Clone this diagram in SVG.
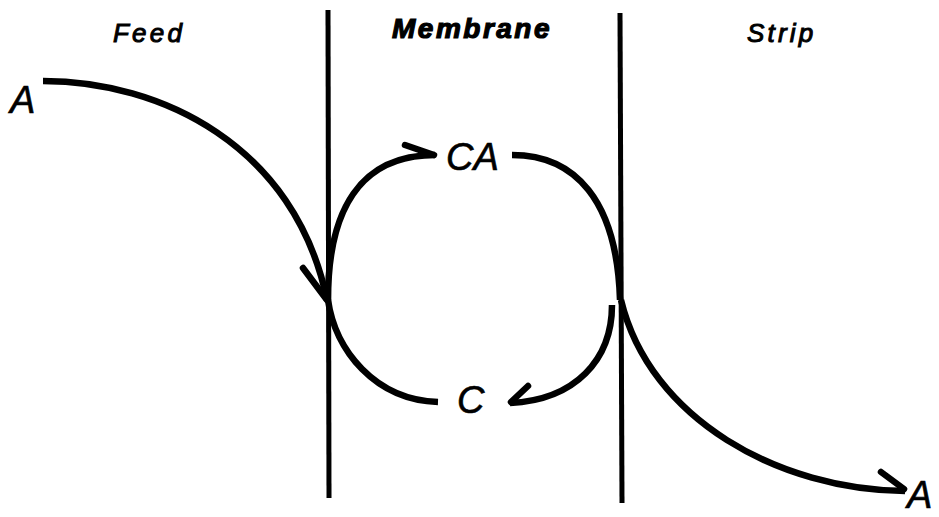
<svg xmlns="http://www.w3.org/2000/svg" width="939" height="517" viewBox="0 0 939 517">
<style>
.head{font-family:"Liberation Sans",Arial,sans-serif;font-style:italic;font-size:26px;letter-spacing:3.2px;fill:#000;stroke:#000;stroke-width:1}
.bold{font-weight:bold;font-size:28px;letter-spacing:2.5px;stroke-width:1.2}
.sp{font-family:"Liberation Sans",Arial,sans-serif;font-style:italic;font-size:38px;fill:#000;stroke:#000;stroke-width:0.6}
.wall{stroke:#000;stroke-width:5;fill:none}
.flow{stroke:#000;stroke-width:6.5;fill:none}
.barb{stroke:#000;stroke-width:6.5;fill:none;stroke-linecap:round}
</style>
<rect width="939" height="517" fill="#fff"/>
<g id="labels">
<text class="head" x="113" y="42">Feed</text>
<text class="head bold" x="392" y="38">Membrane</text>
<text class="head" x="747" y="42">Strip</text>
</g>
<g id="walls">
<line class="wall" x1="328" y1="10" x2="329" y2="498"/>
<line class="wall" x1="620" y1="13" x2="622" y2="503"/>
</g>
<g id="node-A-feed"><text class="sp" x="10" y="113">A</text></g>
<g id="node-CA"><text class="sp" x="446" y="170" font-size="40">CA</text></g>
<g id="node-C"><text class="sp" x="457" y="413">C</text></g>
<g id="node-A-strip"><text class="sp" x="907" y="508" font-size="34">A</text></g>
<g id="connectors">
<path class="flow" d="M43,81 C160,81 295,145 327,300"/>
<path class="barb" d="M303,268 L327,300"/>
<path class="flow" d="M328,300 C328,210 360,155 435,155"/>
<path class="barb" d="M405,145 L434,155"/>
<path class="flow" d="M328,300 C335,350 375,400 438,402"/>
<path class="flow" d="M512,155 C575,155 617,200 620,300"/>
<path class="flow" d="M612,305 C612,360 575,400 510,403"/>
<path class="barb" d="M528,386 L511,402"/>
<path class="flow" d="M621,300 C650,420 780,490 905,491"/>
<path class="barb" d="M881,472 L904,489"/>
</g>
</svg>
